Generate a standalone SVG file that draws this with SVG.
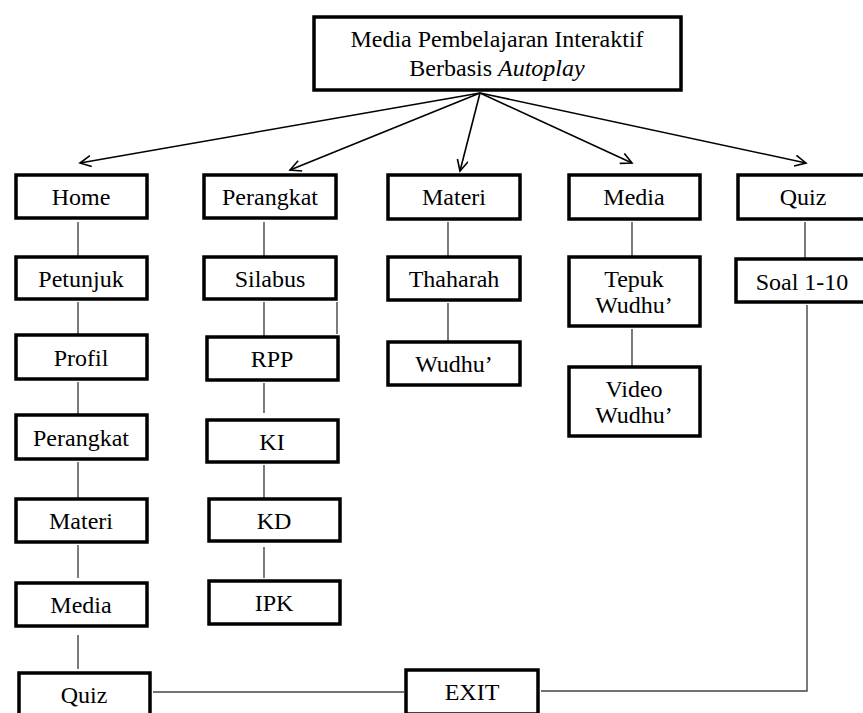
<svg xmlns="http://www.w3.org/2000/svg" width="863" height="713" viewBox="0 0 863 713">
<style>
.box{fill:#fff;stroke:#000;stroke-width:3.5}
.t{font-family:'Liberation Serif','Times New Roman','DejaVu Serif',serif;font-size:24px;fill:#000;text-anchor:middle}
.c{fill:none;stroke:#444;stroke-width:1.4}
.a{fill:none;stroke:#000;stroke-width:1.6}
</style>
<defs>
<marker id="ah" markerUnits="userSpaceOnUse" markerWidth="16" markerHeight="16" refX="12" refY="6" orient="auto">
<path d="M1,0.5 L12,6 L1,11.5" fill="none" stroke="#000" stroke-width="1.6"/>
</marker>
</defs>
<rect width="863" height="713" fill="#fff"/>
<g id="connectors">
<line class="a" x1="480" y1="93" x2="80" y2="163" marker-end="url(#ah)"/>
<line class="a" x1="480" y1="93" x2="290" y2="170" marker-end="url(#ah)"/>
<line class="a" x1="480" y1="93" x2="460" y2="171" marker-end="url(#ah)"/>
<line class="a" x1="480" y1="93" x2="632" y2="163" marker-end="url(#ah)"/>
<line class="a" x1="480" y1="93" x2="806" y2="163" marker-end="url(#ah)"/>
<line class="c" x1="78" y1="222" x2="78" y2="256"/>
<line class="c" x1="78" y1="302" x2="78" y2="334"/>
<line class="c" x1="78" y1="382" x2="78" y2="414"/>
<line class="c" x1="78" y1="462" x2="78" y2="498"/>
<line class="c" x1="78" y1="545" x2="78" y2="578"/>
<line class="c" x1="78" y1="635" x2="78" y2="669"/>
<line class="c" x1="264" y1="222" x2="264" y2="256"/>
<line class="c" x1="264" y1="302" x2="264" y2="336"/>
<line class="c" x1="337" y1="302" x2="337" y2="334"/>
<line class="c" x1="264" y1="383" x2="264" y2="413"/>
<line class="c" x1="264" y1="465" x2="264" y2="498"/>
<line class="c" x1="264" y1="547" x2="264" y2="578"/>
<line class="c" x1="448" y1="222" x2="448" y2="256"/>
<line class="c" x1="448" y1="303" x2="448" y2="341"/>
<line class="c" x1="632" y1="222" x2="632" y2="256"/>
<line class="c" x1="632" y1="329" x2="632" y2="366"/>
<line class="c" x1="805" y1="222" x2="805" y2="258"/>
<polyline class="c" points="807,305 807,691 541,691"/>
<line class="c" x1="153" y1="692" x2="404" y2="692"/>
</g>
<g id="root"><rect class="box" x="314" y="17" width="367" height="73"/><text class="t" x="497" y="47">Media Pembelajaran Interaktif</text><text class="t" x="497" y="76">Berbasis <tspan font-style="italic">Autoplay</tspan></text></g>
<g id="home"><rect class="box" x="16" y="175" width="131" height="43"/><text class="t" x="81" y="205">Home</text></g>
<g id="petunjuk"><rect class="box" x="16" y="257" width="131" height="42"/><text class="t" x="81" y="287">Petunjuk</text></g>
<g id="profil"><rect class="box" x="16" y="335" width="131" height="44"/><text class="t" x="81" y="366">Profil</text></g>
<g id="perangkat2"><rect class="box" x="16" y="415" width="131" height="44"/><text class="t" x="81" y="446">Perangkat</text></g>
<g id="materi2"><rect class="box" x="16" y="499" width="131" height="43"/><text class="t" x="81" y="529">Materi</text></g>
<g id="media2"><rect class="box" x="16" y="583" width="131" height="43"/><text class="t" x="81" y="613">Media</text></g>
<g id="quiz2"><rect class="box" x="19" y="673" width="131" height="44"/><text class="t" x="84" y="703">Quiz</text></g>
<g id="perangkat"><rect class="box" x="204" y="175" width="132" height="43"/><text class="t" x="270" y="205">Perangkat</text></g>
<g id="silabus"><rect class="box" x="204" y="257" width="132" height="42"/><text class="t" x="270" y="287">Silabus</text></g>
<g id="rpp"><rect class="box" x="207" y="337" width="131" height="43"/><text class="t" x="272" y="367">RPP</text></g>
<g id="ki"><rect class="box" x="207" y="420" width="131" height="42"/><text class="t" x="272" y="450">KI</text></g>
<g id="kd"><rect class="box" x="209" y="499" width="131" height="42"/><text class="t" x="274" y="529">KD</text></g>
<g id="ipk"><rect class="box" x="209" y="581" width="131" height="43"/><text class="t" x="274" y="611">IPK</text></g>
<g id="materi"><rect class="box" x="388" y="175" width="132" height="44"/><text class="t" x="454" y="205">Materi</text></g>
<g id="thaharah"><rect class="box" x="388" y="257" width="132" height="43"/><text class="t" x="454" y="287">Thaharah</text></g>
<g id="wudhu"><rect class="box" x="388" y="342" width="132" height="43"/><text class="t" x="454" y="372">Wudhu’</text></g>
<g id="media"><rect class="box" x="569" y="175" width="131" height="44"/><text class="t" x="634" y="205">Media</text></g>
<g id="tepuk"><rect class="box" x="569" y="257" width="131" height="69"/><text class="t" x="634" y="287">Tepuk</text><text class="t" x="634" y="313">Wudhu’</text></g>
<g id="video"><rect class="box" x="569" y="367" width="131" height="69"/><text class="t" x="634" y="397">Video</text><text class="t" x="634" y="423">Wudhu’</text></g>
<g id="quiz"><rect class="box" x="738" y="175" width="132" height="44"/><text class="t" x="803" y="205">Quiz</text></g>
<g id="soal"><rect class="box" x="736" y="259" width="134" height="43"/><text class="t" x="802" y="290">Soal 1-10</text></g>
<g id="exit"><rect class="box" x="406" y="670" width="132" height="44"/><text class="t" x="472" y="700">EXIT</text></g>
</svg>
